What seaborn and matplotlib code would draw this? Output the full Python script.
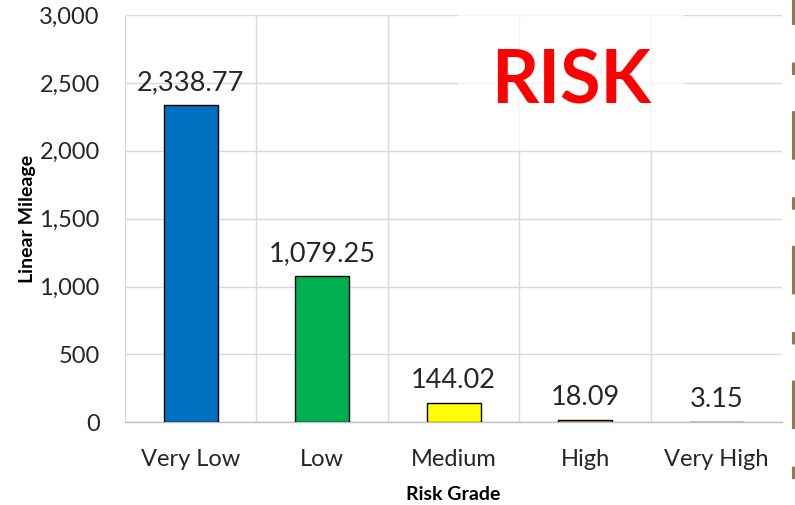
import matplotlib
matplotlib.use("Agg")
import matplotlib.pyplot as plt
from matplotlib.lines import Line2D
from matplotlib.ticker import FuncFormatter, FixedLocator
import seaborn as sns
import pandas as pd

categories = ["Very Low", "Low", "Medium", "High", "Very High"]
mileage = [2338.77, 1079.25, 144.02, 18.09, 3.15]
bar_colors = ["#0070C0", "#00B050", "#FFFF00", "#FFC000", "#FF0000"]
y_ticks = [0, 500, 1000, 1500, 2000, 2500, 3000]

sns.set_theme(style="white")
plt.rcParams["font.family"] = ["Lato", "DejaVu Sans"]
plt.rcParams["lines.scale_dashes"] = False

df = pd.DataFrame({"Risk Grade": categories, "Linear Mileage": mileage})

fig = plt.figure(figsize=(7.95, 5.05), dpi=100)
ax = fig.add_axes([0.157, 0.164, 0.827, 0.806])

sns.barplot(data=df, x="Risk Grade", y="Linear Mileage", hue="Risk Grade",
            palette=bar_colors, legend=False, width=0.41, saturation=1,
            edgecolor="black", linewidth=1.0, ax=ax, zorder=3)

ax.set_ylim(0, 3000)
ax.set_xlim(-0.5, 4.5)
ax.yaxis.set_major_locator(FixedLocator(y_ticks))
ax.yaxis.set_major_formatter(FuncFormatter(lambda v, p: f"{v:,.0f}"))
ax.xaxis.set_minor_locator(FixedLocator([-0.5, 0.5, 1.5, 2.5, 3.5]))

ax.grid(axis="y", which="major", color="#d9d9d9", linewidth=1.0, zorder=0)
ax.grid(axis="x", which="minor", color="#d9d9d9", linewidth=1.0, zorder=0)
for side in ["top", "right", "left"]:
    ax.spines[side].set_visible(False)
ax.spines["bottom"].set_color("#bfbfbf")
ax.spines["bottom"].set_linewidth(1.0)

ax.tick_params(axis="both", which="both", length=0, labelsize=17, colors="#262626")
ax.tick_params(axis="y", pad=18)
ax.tick_params(axis="x", pad=19)

for cont in ax.containers:
    ax.bar_label(cont, labels=[f"{v:,.2f}" for v in cont.datavalues],
                 padding=7, fontsize=19.5, color="#262626")

ax.set_xlabel("Risk Grade", fontsize=14, fontweight="bold", color="black", labelpad=12)
ax.set_ylabel("Linear Mileage", fontsize=14, fontweight="bold", color="black")
ax.yaxis.set_label_coords(-0.135, 0.5)

ax.text(0.679, 0.835, "RISK", transform=ax.transAxes, ha="center", va="center",
        fontsize=53, fontweight="bold", color="#FF0000", zorder=5,
        bbox=dict(boxstyle="square,pad=0.45", facecolor="white", edgecolor="none", alpha=0.75))

# dashed border strip along the right edge
fig.add_artist(Line2D([0.9985, 0.9985], [1, 0], transform=fig.transFigure,
                      color="#8C7B55", linewidth=3.0,
                      linestyle=(17, (35, 27, 9, 26)), dash_capstyle="butt"))

fig.savefig("out.png", dpi=100, facecolor="white")
